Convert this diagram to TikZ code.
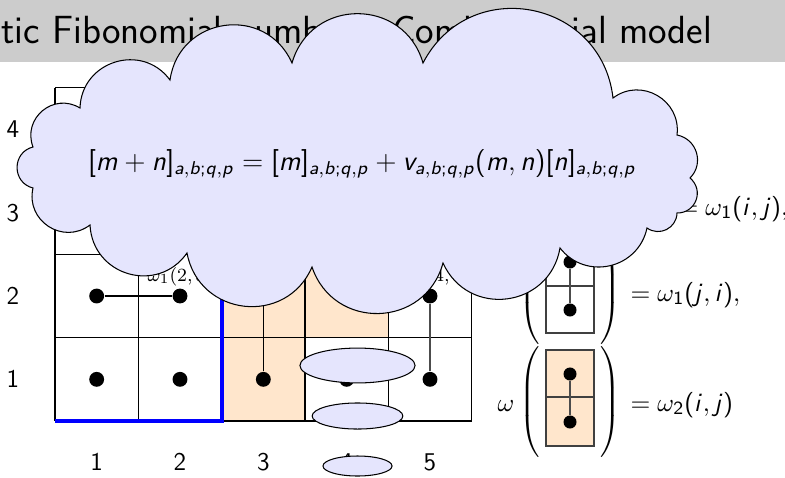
\documentclass[tikz,border=0pt]{standalone}
\usepackage{amsmath}
\usetikzlibrary{shapes.geometric}
\SetSymbolFont{operators}{normal}{OT1}{cmss}{m}{n}
\DeclareSymbolFont{sfletters}{OT1}{cmss}{m}{sl}
\DeclareMathSymbol{a}{\mathalpha}{sfletters}{`a}
\DeclareMathSymbol{b}{\mathalpha}{sfletters}{`b}
\DeclareMathSymbol{i}{\mathalpha}{sfletters}{`i}
\DeclareMathSymbol{j}{\mathalpha}{sfletters}{`j}
\DeclareMathSymbol{m}{\mathalpha}{sfletters}{`m}
\DeclareMathSymbol{n}{\mathalpha}{sfletters}{`n}
\DeclareMathSymbol{p}{\mathalpha}{sfletters}{`p}
\DeclareMathSymbol{q}{\mathalpha}{sfletters}{`q}
\DeclareMathSymbol{v}{\mathalpha}{sfletters}{`v}
\definecolor{cloudc}{RGB}{229,229,253}
\definecolor{domc}{RGB}{255,230,204}
\definecolor{titlec}{RGB}{204,204,204}
\newcommand{\abqp}{a,b;q,p}
\tikzset{
  dot/.style={circle,fill=black,inner sep=0pt,minimum size=6.4pt},
  sdot/.style={circle,fill=black,inner sep=0pt,minimum size=5.6pt},
  lab/.style={font=\sffamily\fontsize{11}{13}\selectfont,inner sep=0pt},
  bubble/.style={ellipse,draw=black,fill=cloudc,inner sep=0pt,line width=0.45pt},
  paren/.style={inner sep=0pt},
  eqtext/.style={anchor=base west,inner sep=0pt,font=\fontsize{11}{13}\selectfont},
  smalllab/.style={anchor=base west,inner sep=0pt,font=\rmfamily\fontsize{8}{9}\selectfont},
  cell/.style={draw=black!75,line width=0.45pt}
}
\begin{document}
\begin{tikzpicture}[x=0.43pt,y=-0.43pt,line width=0.45pt]
\useasboundingbox (0,0) rectangle (785,477);
% title bar
\fill[titlec] (0,0) rectangle (785,62);
\node[anchor=base west,inner sep=0pt,font=\sffamily\fontsize{16.9}{20}\selectfont] (title) at (1,43) {tic Fibonomial numbers: Combinatorial model};
% coloured cells
\fill[domc] (221.67,254.33) rectangle (305,421);
\fill[domc] (305,254.33) rectangle (388.33,337.67);
% grid
\foreach \i in {0,...,5} \draw (55+83.333*\i,87.67) -- (55+83.333*\i,421);
\foreach \j in {0,...,4} \draw (55,421-83.333*\j) -- (471.67,421-83.333*\j);
% lattice path
\draw[blue,line width=1.75pt] (55,421) -- (221.67,421) -- (221.67,254.33);
% dots
\node[dot] (a1) at (96.67,379.33) {};
\node[dot] (b1) at (180,379.33) {};
\node[dot] (c1) at (263.33,379.33) {};
\node[dot] (d1) at (346.67,379.33) {};
\node[dot] (e1) at (430,379.33) {};
\node[dot] (a2) at (96.67,296) {};
\node[dot] (b2) at (180,296) {};
\node[dot] (c2) at (263.33,296) {};
\node[dot] (e2) at (430,296) {};
\draw (a2) -- (b2);
\draw (c1) -- (c2);
\draw[black!70] (e1) -- (e2);
% small labels
\node[smalllab] (w23) at (147,281) {$\omega_{\text{\rmfamily 1}}$(2,\,3)};
\node[smalllab] (w45) at (404,281) {$\omega_{\text{\rmfamily 1}}$(4,\,5)};
% axis labels
\node[lab] (r1) at (13,379.33) {1};
\node[lab] (r2) at (13,296) {2};
\node[lab] (r3) at (13,212.67) {3};
\node[lab] (r4) at (13,129.33) {4};
\node[lab] (k1) at (96.67,462) {1};
\node[lab] (k2) at (180,462) {2};
\node[lab] (k3) at (263.33,462) {3};
\node[lab] (k4) at (346.67,462) {4};
\node[lab] (k5) at (430,462) {5};
% right side: entry 2
\draw[cell,fill=white] (546,239) rectangle (594,333);
\draw[cell] (546,286) -- (594,286);
\node[sdot] (p1) at (570,262) {};
\node[sdot] (p2) at (570,310) {};
\draw[black!70] (p1) -- (p2);
\node[paren] (lp2) at (531,289) {$\left(\vcenter{\hbox{\rule{0pt}{50pt}}}\right.$};
\node[paren] (rp2) at (609,289) {$\left.\vcenter{\hbox{\rule{0pt}{50pt}}}\right)$};
\node[eqtext] (eq2) at (630,301) {$=\omega_1(j,i),$};
% entry 3
\draw[cell,fill=domc] (546,350) rectangle (594,446);
\draw[cell] (546,397) -- (594,397);
\node[sdot] (q1) at (570,374) {};
\node[sdot] (q2) at (570,422) {};
\draw[black!70] (q1) -- (q2);
\node[paren] (lp3) at (531,402) {$\left(\vcenter{\hbox{\rule{0pt}{50pt}}}\right.$};
\node[paren] (rp3) at (609,402) {$\left.\vcenter{\hbox{\rule{0pt}{50pt}}}\right)$};
\node[eqtext] (om3) at (497,411) {$\omega$};
\node[eqtext] (eq3) at (630,411) {$=\omega_2(i,j)$};
% entry 1 (visible part)
\node[eqtext] (eq1) at (678,215) {$=\omega_1(i,j),$};
% cloud
\draw[fill=cloudc,line width=0.45pt]
 (80,108) to[bend left=71,looseness=1.28] (170,80)
 to[bend left=74,looseness=1.34] (292,63)
 to[bend left=74,looseness=1.34] (423,63)
 to[bend left=73,looseness=1.32] (613,98)
 to[bend left=67,looseness=1.22] (677,135)
 to[bend left=62,looseness=1.16] (690,178)
 to[bend left=70,looseness=1.3] (677,213)
 to[bend left=62,looseness=1.16] (647,228)
 to[bend left=65,looseness=1.20] (560,248)
 to[bend left=73,looseness=1.32] (443,263)
 to[bend left=73,looseness=1.32] (312,267)
 to[bend left=73,looseness=1.32] (187,253)
 to[bend left=71,looseness=1.29] (90,225)
 to[bend left=70,looseness=1.27] (33,188)
 to[bend left=76,looseness=1.37] (33,147)
 to[bend left=71,looseness=1.29] (80,108) -- cycle;
\node[font=\fontsize{12}{14}\selectfont,inner sep=0pt] (formula) at (362,164)
 {$[m+n]_{\abqp}=[m]_{\abqp}+v_{\abqp}(m,n)[n]_{\abqp}$};
% thought bubbles
\node[bubble,minimum width=49.5pt,minimum height=15pt] (b1e) at (357.5,365.5) {};
\node[bubble,minimum width=39pt,minimum height=11.2pt] (b2e) at (357.5,416) {};
\node[bubble,minimum width=29.7pt,minimum height=8.6pt] (b3e) at (357.5,466) {};
\end{tikzpicture}
\end{document}
